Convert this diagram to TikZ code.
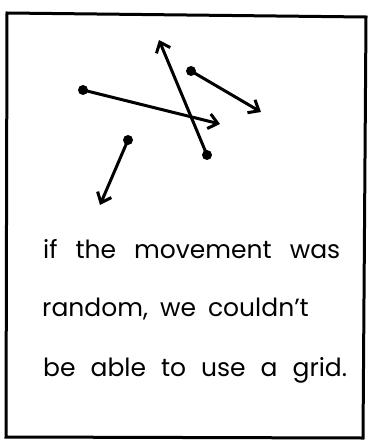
\documentclass[tikz,border=0pt]{standalone}
\usepackage{fontspec}
\setmainfont{Poppins}
\usetikzlibrary{arrows.meta}
\begin{document}
\begin{tikzpicture}[x=1pt,y=-1pt,
  stroke/.style={line width=3pt,line cap=round,line join=round},
  arr/.style={stroke,-{Straight Barb[length=9pt,width=15pt,line width=3pt]}},
  dot/.style={circle,fill=black,inner sep=0pt,minimum size=10pt},
  txt/.style={anchor=base west,inner sep=0pt,font=\fontsize{25}{30}\selectfont}]
\useasboundingbox (0,0) rectangle (368,441);
\draw[line width=3pt] (7,13) -- (366,17) -- (363,438) -- (6,437) -- cycle;
% arrows
\node[dot] (a1) at (83,90) {};
\coordinate (b1) at (220,124);
\draw[arr] (a1.center) -- (b1);
\node[dot] (a2) at (191,71) {};
\coordinate (b2) at (261,112);
\draw[arr] (a2.center) -- (b2);
\node[dot] (a3) at (207,155) {};
\coordinate (b3) at (159,40);
\draw[arr] (a3.center) -- (b3);
\node[dot] (a4) at (128,140) {};
\coordinate (b4) at (100,205);
\draw[arr] (a4.center) -- (b4);
% text
\node[txt] (l1) at (43,258) {\spaceskip=18pt if the movement was};
\node[txt] (l2) at (42,316) {\spaceskip=12pt random, we couldn't};
\node[txt] (l3) at (43,376) {\spaceskip=15pt be able to use a grid.};
\end{tikzpicture}
\end{document}
